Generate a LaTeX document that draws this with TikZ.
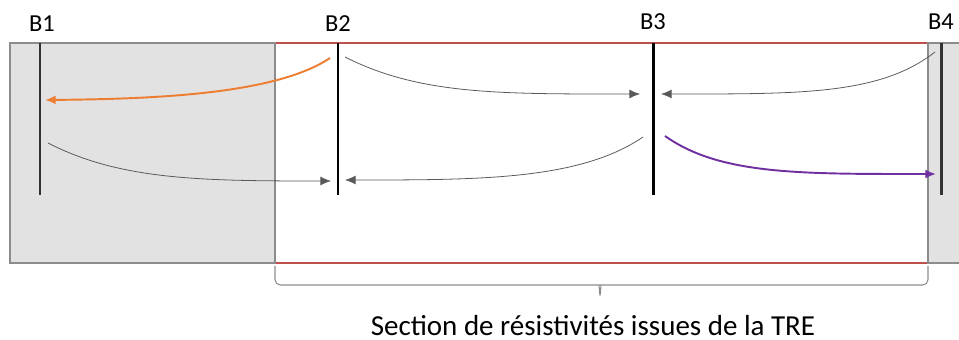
\documentclass[tikz,border=0pt]{standalone}
\usepackage{fontspec}
\setmainfont{Carlito}
\usepackage{tikz}
\usetikzlibrary{positioning,arrows.meta}

\definecolor{zonered}{HTML}{C0504D}
\definecolor{zonegray}{HTML}{E2E2E2}
\definecolor{edgegray}{HTML}{8C8C8C}
\definecolor{flowgray}{HTML}{595959}
\definecolor{floworange}{HTML}{ED7D31}
\definecolor{flowpurple}{HTML}{7030A0}

\tikzset{
  bar/.style={line width=1.7pt},
  flow/.style={flowgray, line width=0.45pt, -{Latex[length=6pt,width=5pt]}},
  bigflow/.style={line width=1.1pt, -{Latex[length=6pt,width=5pt]}},
  label/.style={font=\fontsize{13.9}{16}\selectfont}
}

\begin{document}
\begin{tikzpicture}[x=0.02cm, y=-0.02cm]
				\useasboundingbox (0,0) rectangle (959,340);
				
				% zones
				\draw[zonered, line width=0.8pt] (10,43) rectangle (965,263);
				\draw[edgegray, fill=zonegray, line width=0.8pt] (10,43) rectangle (275,263);
				\draw[edgegray, fill=zonegray, line width=0.8pt] (928,43) rectangle (965,263);
				
				% bar ends
				\coordinate (T1) at (40,43);  \coordinate (D1) at (40,195);
				\coordinate (T2) at (338,43); \coordinate (D2) at (338,195);
				\coordinate (T3) at (653,43); \coordinate (D3) at (653,195);
				\coordinate (T4) at (941,43); \coordinate (D4) at (941,195);
				
				% draw bars 
				\draw[bar, black!80] (T1) -- (D1);
				\draw[bar] (T2) -- (D2);
				\draw[bar] (T3) -- (D3);
				\draw[bar, black!80] (T4) -- (D4);
				
				% labels above bars 
				\node[label, above=0.1cm of T1, xshift=0.04cm] {B1};
				\node[label, above=0.1cm of T2] {B2};
				\node[label, above=0.15cm of T3] {B3};
				\node[label, above=0.15cm of T4] {B4};
				
				% arrow ends
				\coordinate (S21) at (330,58);  \coordinate (E21) at (45,100);
				\coordinate (S12) at (48,143);  \coordinate (E12) at (331,181);
				\coordinate (S23) at (345,57);  \coordinate (E23) at (640,94);
				\coordinate (S32) at (643,137); \coordinate (E32) at (345,180);
				\coordinate (S43) at (935,52);  \coordinate (E43) at (661,94);
				\coordinate (S34) at (665,136); \coordinate (E34) at (936,174);
				
				% draw arrows 
				\draw[bigflow, floworange] (S21) .. controls (275,95) and (150,99) .. (E21);
				\draw[flow] (S12) .. controls (120,180) and (200,181) .. (E12);
				\draw[flow] (S23) .. controls (420,95) and (500,94) .. (E23);
				\draw[flow] (S32) .. controls (580,180) and (480,180) .. (E32);
				\draw[flow] (S43) .. controls (880,95) and (800,94) .. (E43);
				\draw[bigflow, flowpurple] (S34) .. controls (720,175) and (800,174) .. (E34);
				
				% brace under the section 
				\coordinate (L) at (275,266);
				\coordinate (R) at (928,266);
				\coordinate (K) at (600,298);
				\draw[edgegray, line width=0.6pt, rounded corners=3]
				  (L) |- (594,285) .. controls (599,285) .. (K)
				  .. controls (601,285) .. (606,285) -| (R);
				\node[font=\fontsize{16.5}{19}\selectfont, anchor=base, inner sep=0pt] (sec) at (593,336) {Section de résistivités issues de la TRE};
			\end{tikzpicture}
\end{document}
